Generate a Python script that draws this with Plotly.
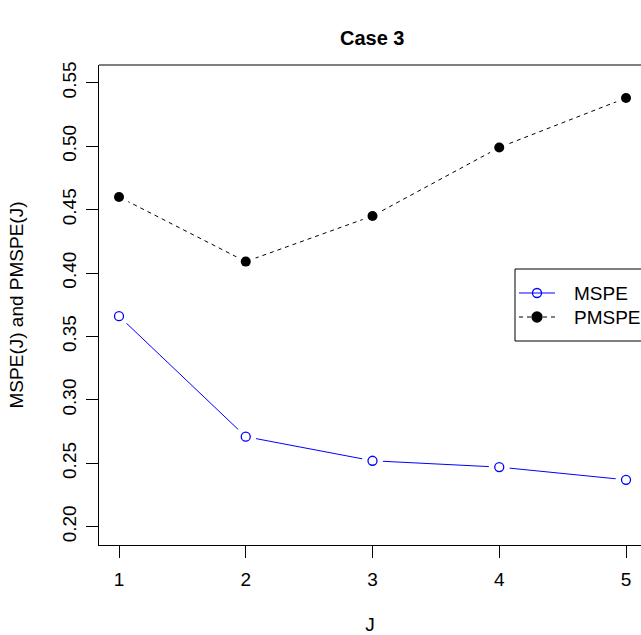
import plotly.graph_objects as go

# Number of components J and the two error curves
J = [1, 2, 3, 4, 5]
mspe = [0.366, 0.271, 0.252, 0.247, 0.237]
pmspe = [0.460, 0.409, 0.445, 0.499, 0.538]

y_ticks = [0.20, 0.25, 0.30, 0.35, 0.40, 0.45, 0.50, 0.55]
y_tick_text = ["0.20", "0.25", "0.30", "0.35", "0.40", "0.45", "0.50", "0.55"]

FONT = "Liberation Sans, Arial, Helvetica, sans-serif"
FS = 19

fig = go.Figure()

# connecting lines
fig.add_trace(go.Scatter(x=J, y=mspe, mode="lines",
                         line=dict(color="#0000FF", width=1), showlegend=False))
fig.add_trace(go.Scatter(x=J, y=pmspe, mode="lines",
                         line=dict(color="black", width=1, dash="4px,4px"), showlegend=False))
# white halos leave a small gap between line and point (type="b" look)
for ys in (mspe, pmspe):
    fig.add_trace(go.Scatter(x=J, y=ys, mode="markers",
                             marker=dict(color="white", size=21, line=dict(width=0)),
                             showlegend=False, hoverinfo="skip"))
# points
fig.add_trace(go.Scatter(x=J, y=mspe, mode="markers", name="MSPE",
                         marker=dict(symbol="circle-open", color="#0000FF", size=9,
                                     line=dict(width=1.3, color="#0000FF")),
                         showlegend=False))
fig.add_trace(go.Scatter(x=J, y=pmspe, mode="markers", name="PMSPE",
                         marker=dict(symbol="circle", color="black", size=10),
                         showlegend=False))

# legend drawn in a pixel-coordinate overlay
leg_rows = [("MSPE", 293, "#0000FF", "solid", "circle-open"),
            ("PMSPE", 317, "black", "4px,4px", "circle")]
for name, py, col, dash, sym in leg_rows:
    fig.add_shape(type="line", xref="x2", yref="y2", x0=519, x1=555, y0=py, y1=py,
                  line=dict(color=col, width=1, dash=dash))
    fig.add_trace(go.Scatter(x=[537], y=[py], xaxis="x2", yaxis="y2", mode="markers",
                             marker=dict(symbol=sym, color=col,
                                         size=9 if sym == "circle-open" else 10,
                                         line=dict(width=1.3, color=col)),
                             showlegend=False, hoverinfo="skip"))
    fig.add_annotation(xref="x2", yref="y2", x=572, y=py, text=name, showarrow=False,
                       xanchor="left", yanchor="middle",
                       font=dict(family=FONT, size=FS, color="black"))
fig.add_shape(type="rect", xref="x2", yref="y2", x0=515, x1=700, y0=269, y1=341,
              line=dict(color="black", width=1), fillcolor="rgba(0,0,0,0)")

# top frame line
fig.add_shape(type="line", xref="paper", yref="paper", x0=0, x1=1, y0=1, y1=1,
              line=dict(color="black", width=1))

# title
fig.add_annotation(xref="x", yref="paper", x=3, y=1, yshift=27, text="<b>Case 3</b>",
                   showarrow=False, xanchor="center", yanchor="middle",
                   font=dict(family=FONT, size=20, color="black"))

fig.update_layout(
    width=641, height=635,
    margin=dict(l=99, r=0, t=65, b=90),
    paper_bgcolor="white", plot_bgcolor="white",
    font=dict(family=FONT, size=FS, color="black"),
    xaxis=dict(range=[0.8422, 5.1183], tickvals=J, ticktext=[str(j) for j in J],
               showgrid=False, zeroline=False, showline=True, linecolor="black", linewidth=1,
               ticks="outside", ticklen=12, tickcolor="black", tickwidth=1,
               ticklabelstandoff=5, automargin=False,
               title=dict(text="J", standoff=36, font=dict(size=FS)),
               tickfont=dict(size=FS)),
    yaxis=dict(range=[0.1856, 0.564], tickvals=y_ticks, ticktext=y_tick_text,
               tickangle=-90, showgrid=False, zeroline=False, showline=True,
               linecolor="black", linewidth=1,
               ticks="outside", ticklen=12, tickcolor="black", tickwidth=1,
               ticklabelstandoff=2, automargin=False,
               title=dict(text="MSPE(J) and PMSPE(J)", standoff=30, font=dict(size=FS)),
               tickfont=dict(size=FS)),
    xaxis2=dict(range=[99, 641], overlaying="x", visible=False, fixedrange=True),
    yaxis2=dict(range=[545, 65], overlaying="y", visible=False, fixedrange=True),
)

fig.write_html("out.html")
